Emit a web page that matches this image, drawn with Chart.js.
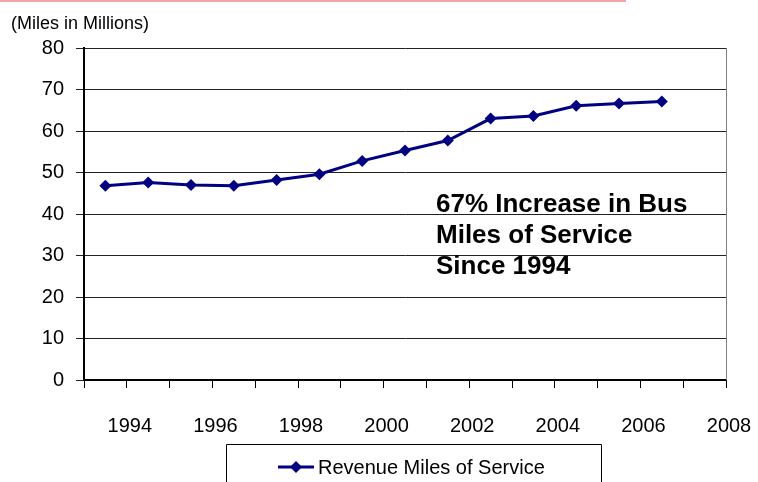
<!DOCTYPE html>
<html>
<head>
<meta charset="utf-8">
<script src="https://cdn.jsdelivr.net/npm/chart.js@4"></script>
<style>
  html, body { margin: 0; padding: 0; background: #fff; }
  #wrap { width: 758px; height: 482px; position: relative; }
</style>
</head>
<body>
<div id="wrap"><canvas id="chart"></canvas></div>
<script>
// Revenue miles of bus service, millions
const years = [1994, 1995, 1996, 1997, 1998, 1999, 2000, 2001, 2002, 2003, 2004, 2005, 2006, 2007];
const miles = [46.8, 47.6, 47.0, 46.8, 48.2, 49.6, 52.8, 55.3, 57.7, 63.0, 63.6, 66.1, 66.6, 67.1];
const seriesLabel = 'Revenue Miles of Service';
const yTicks = [0, 10, 20, 30, 40, 50, 60, 70, 80];
const xRange = [1993, 2008];
const noteLines = ['67% Increase in Bus', 'Miles of Service', 'Since 1994'];
const unitLabel = '(Miles in Millions)';

const SANS = '"Liberation Sans", Arial, sans-serif';
const NAVY = '#000080';

// each year's point sits in the middle of its interval
const points = years.map((y, i) => ({ x: y - 0.5, y: miles[i] }));

// extra drawing: top rule, unit label, frame, note text and boxed legend
const decorations = {
  id: 'decorations',
  beforeDraw(chart) {
    const ctx = chart.ctx;
    ctx.save();
    ctx.fillStyle = '#fff';
    ctx.fillRect(0, 0, chart.width, chart.height);
    ctx.fillStyle = '#f4a4a4';
    ctx.fillRect(0, 0, 626, 2);
    ctx.restore();
  },
  afterDatasetsDraw(chart) {
    const ctx = chart.ctx;
    const a = chart.chartArea;
    ctx.save();

    // right edge of plot frame
    ctx.strokeStyle = '#808080';
    ctx.lineWidth = 1;
    ctx.beginPath();
    ctx.moveTo(a.right + 0.5, a.top);
    ctx.lineTo(a.right + 0.5, a.bottom);
    ctx.stroke();

    // unit label
    ctx.fillStyle = '#000';
    ctx.font = '18px ' + SANS;
    ctx.textBaseline = 'alphabetic';
    ctx.textAlign = 'left';
    ctx.fillText(unitLabel, 11, 29);

    // annotation
    ctx.font = 'bold 26px ' + SANS;
    noteLines.forEach((t, i) => ctx.fillText(t, 436, 212 + i * 31));

    // legend box
    ctx.strokeStyle = '#000';
    ctx.lineWidth = 1;
    ctx.beginPath();
    ctx.moveTo(226.5, chart.height + 2);
    ctx.lineTo(226.5, 444.5);
    ctx.lineTo(601.5, 444.5);
    ctx.lineTo(601.5, chart.height + 2);
    ctx.stroke();

    const ly = 467;
    ctx.strokeStyle = NAVY;
    ctx.lineWidth = 3;
    ctx.beginPath();
    ctx.moveTo(278, ly);
    ctx.lineTo(314, ly);
    ctx.stroke();
    ctx.fillStyle = NAVY;
    ctx.beginPath();
    ctx.moveTo(296, ly - 6);
    ctx.lineTo(302, ly);
    ctx.lineTo(296, ly + 6);
    ctx.lineTo(290, ly);
    ctx.closePath();
    ctx.fill();

    ctx.fillStyle = '#000';
    ctx.font = '20px ' + SANS;
    ctx.textBaseline = 'middle';
    ctx.fillText(chart.data.datasets[0].label, 318, ly + 1);
    ctx.restore();
  }
};

new Chart(document.getElementById('chart'), {
  type: 'line',
  data: {
    datasets: [{
      label: seriesLabel,
      data: points,
      borderColor: NAVY,
      backgroundColor: NAVY,
      borderWidth: 3,
      pointStyle: 'rectRot',
      pointRadius: 6,
      pointHoverRadius: 6,
      pointBackgroundColor: NAVY,
      pointBorderColor: NAVY,
      pointBorderWidth: 0,
      tension: 0
    }]
  },
  options: {
    responsive: true,
    maintainAspectRatio: false,
    animation: false,
    layout: { padding: { top: 48, right: 32, left: 0, bottom: 0 } },
    scales: {
      x: {
        type: 'linear',
        min: xRange[0],
        max: xRange[1],
        afterBuildTicks: (scale) => {
          const t = [];
          for (let v = xRange[0]; v <= xRange[1]; v++) t.push({ value: v });
          scale.ticks = t;
        },
        afterFit: (scale) => {
          scale.height = 102;
          scale.paddingLeft = 0;
          scale.paddingRight = 0;
        },
        grid: {
          drawOnChartArea: false,
          drawTicks: true,
          tickLength: 8,
          color: '#000',
          lineWidth: 1
        },
        border: { display: true, color: '#000', width: 2 },
        ticks: {
          autoSkip: false,
          maxRotation: 0,
          padding: 26,
          labelOffset: 3,
          color: '#000',
          font: { family: SANS, size: 20 },
          callback: (v) => (v % 2 === 0 ? String(v) : '')
        }
      },
      y: {
        min: yTicks[0],
        max: yTicks[yTicks.length - 1],
        afterBuildTicks: (scale) => { scale.ticks = yTicks.map(v => ({ value: v })); },
        afterFit: (scale) => {
          scale.width = 84;
          scale.paddingTop = 0;
          scale.paddingBottom = 0;
        },
        grid: {
          color: '#222',
          lineWidth: 1,
          tickLength: 8
        },
        border: { display: true, color: '#000', width: 2 },
        ticks: {
          padding: 12,
          color: '#000',
          font: { family: SANS, size: 20 }
        }
      }
    },
    plugins: {
      legend: { display: false },
      tooltip: { enabled: false }
    }
  },
  plugins: [decorations]
});
</script>
</body>
</html>
